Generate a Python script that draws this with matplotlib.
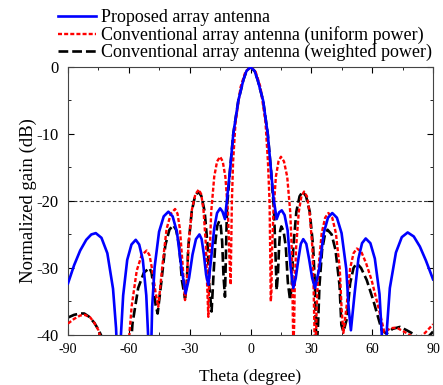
import matplotlib
matplotlib.use("Agg")
import matplotlib.pyplot as plt
from matplotlib.ticker import MultipleLocator

plt.rcParams["font.family"] = ["Liberation Serif", "DejaVu Serif"]
plt.rcParams["axes.unicode_minus"] = False

# Proposed array antenna
blue_theta = [-90, -87, -84, -81, -78.5, -76.3, -73.5, -70.6, -67.8, -66.3, -64.9, -63.9, -62.8,
              -60.8, -58.7, -56.6, -54.9, -53.1, -51.4, -50.5, -49.6, -48.5, -47.3, -45.1, -42.8,
              -40.5, -38.4, -36.3, -34.1, -32.0, -30.3, -28.6, -26.9, -25.2, -24.1, -23.0, -21.9,
              -20.8, -19.4, -17.9, -16.5, -15.0, -13.8, -12.6, -11.5, -10.1, -8.5, -6.0, -3.5,
              -2.0, 0, 2.0, 3.5, 6.2, 8.5, 10.1, 11.3, 12.9, 14.1, 15.4, 16.8, 18.3, 19.7, 21.1,
              22.3, 23.6, 24.8, 26.0, 27.5, 28.9, 30.4, 31.8, 33.9, 36.1, 38.2, 40.3, 42.6, 44.9,
              47.2, 48.4, 49.5, 51.3, 53.2, 55.0, 56.8, 59.1, 61.3, 63.6, 64.7, 65.8, 67.3, 68.7,
              71.7, 74.6, 77.5, 80.5, 83.5, 86.5, 90]
blue_gain = [-32.3, -29.6, -27.4, -25.8, -25.0, -24.8, -25.5, -27.8, -33.1, -39.0, -50, -40.0, -34.1,
             -28.8, -26.5, -25.8, -26.5, -28.8, -34.1, -40.0, -50, -35.8, -29.9, -24.6, -22.3,
             -21.6, -22.3, -24.6, -29.9, -33.8, -31.5, -28.0, -25.7, -25.0, -25.7, -28.0, -31.0,
             -32.5, -28.5, -24.1, -21.8, -21.1, -21.6, -22.7, -19.5, -15.4, -10.0, -5.0, -1.9,
             -0.6, 0, -0.6, -1.9, -5.0, -10.0, -15.4, -19.5, -22.7, -21.7, -21.4, -22.1, -24.4,
             -29.7, -33.0, -31.5, -28.7, -26.4, -25.7, -26.4, -28.7, -31.5, -33.0, -30.1, -24.8,
             -22.5, -21.8, -22.5, -24.8, -30.1, -36.0, -39.3, -33.9, -28.6, -26.3, -25.6, -26.3,
             -28.6, -33.9, -39.8, -50, -38.9, -33.0, -27.7, -25.4, -24.7, -25.3, -26.8, -28.9, -31.7]

# Conventional array antenna, uniform power
red_theta = [-90, -87, -84, -81.6, -79, -77, -75, -73, -71, -66, -61.5, -60.2, -58.6, -56.1, -53.7,
             -51.2, -49.8, -48.4, -46.9, -45.5, -43.4, -41.4, -39.3, -37.2, -36.0, -34.8, -33.5,
             -32.3, -31.5, -30.6, -28.9, -27.2, -25.5, -24.3, -23.2, -22.0, -21.4, -20.8, -20.1,
             -19.4, -17.9, -16.5, -15.0, -13.7, -12.4, -11.1, -10.5, -9.8, -9.2, -8.6, -7.4, -4.9,
             -2.5, 0, 2.5, 4.9, 7.4, 8.6, 9.4, 10.0, 10.3, 10.6, 11.3, 12.5, 13.8, 15.0, 16.5, 18.1,
             19.6, 20.4, 20.7, 21.1, 21.5, 21.8, 22.5, 23.8, 25.1, 26.4, 27.8, 29.1, 30.5, 31.1,
             31.5, 31.8, 32.2, 32.6, 33.5, 35.1, 36.8, 38.4, 40.3, 42.1, 44.0, 44.9, 45.8, 47.5,
             49.1, 50.8, 52.4, 54.5, 57.0, 59.7, 63.0, 66.0, 69, 72, 75, 78, 81, 84, 87, 90]
red_gain = [-38.3, -37.6, -37.1, -37.0, -37.4, -38.2, -39.3, -41.5, -48, -43, -50, -41.6, -35.7, -30.4,
            -28.1, -27.4, -28.1, -30.4, -33.5, -35.8, -29.5, -24.2, -21.9, -21.2, -21.9, -24.2,
            -29.5, -34.8, -32.5, -26.6, -21.3, -19.0, -18.3, -19.0, -21.3, -26.6, -32.5, -37.3,
            -27.6, -21.7, -16.4, -14.1, -13.4, -14.1, -16.4, -21.7, -27.6, -32.5, -20.2, -14.2,
            -8.3, -3.0, -0.7, 0, -0.7, -3.0, -8.3, -14.2, -20.2, -35.0, -33.6, -27.6, -21.7, -16.4,
            -14.1, -13.4, -14.1, -16.4, -21.7, -27.6, -33.6, -42, -38.8, -32.8, -26.9, -21.6,
            -19.3, -18.6, -19.3, -21.6, -26.9, -32.8, -38.8, -45, -42.0, -36.0, -30.1, -24.8,
            -22.5, -21.8, -22.5, -24.8, -30.1, -36.0, -39.7, -35.4, -30.1, -27.8, -27.1, -27.5,
            -29.3, -31.8, -35.8, -39.6, -39.0, -38.9, -39.4, -39.9, -40.5, -40.3, -39.4, -38.4]

# Conventional array antenna, weighted power
black_theta = [-90, -87, -84, -82, -79.5, -77, -75, -73, -71, -66, -61, -59.6, -58.2, -55.4, -52.6,
               -49.8, -48.8, -47.8, -46.8, -45.8, -43.9, -42.0, -40.0, -38.1, -36.7, -35.2, -33.8,
               -32.3, -31.5, -30.7, -29.0, -27.4, -25.7, -24.2, -22.6, -21.1, -20.3, -19.2, -18.3,
               -17.3, -16.4, -15.4, -14.7, -14.0, -13.3, -12.6, -11.6, -10.1, -8.5, -6.0, -3.5,
               -2.0, 0, 2.0, 3.5, 6.2, 8.5, 10.1, 11.6, 12.9, 13.5, 14.1, 14.6, 15.2, 16.3, 17.4,
               18.4, 19.5, 20.3, 21.1, 22.6, 24.2, 25.7, 27.4, 29.2, 30.9, 31.8, 32.2, 32.6, 33.3,
               34.0, 35.3, 36.7, 38.0, 40.0, 41.9, 43.9, 44.8, 45.8, 47.5, 49.1, 50.8, 52.4, 54.5,
               57.3, 60.5, 63.8, 64.7, 67, 70, 73.7, 77, 80, 83.5, 87, 90]
black_gain = [-37.4, -37.0, -36.8, -36.8, -37.3, -38.2, -39.2, -40.5, -46, -43, -50, -44.2, -38.3,
              -33.0, -30.7, -30.0, -30.7, -33.0, -35.5, -36.8, -31.9, -26.6, -24.3, -23.6, -24.3,
              -26.6, -31.9, -34.5, -32.8, -26.9, -21.6, -19.3, -18.6, -19.3, -21.6, -26.9, -32.8,
              -36.5, -31.3, -26.0, -23.7, -23.0, -23.7, -26.0, -31.3, -34.3, -21.0, -15.4, -10.0,
              -5.0, -1.9, -0.6, 0, -0.6, -1.9, -5.0, -10.0, -15.4, -21.5, -33.3, -31.0, -26.8,
              -24.5, -23.8, -24.5, -26.8, -32.1, -34.8, -32.8, -26.9, -21.6, -19.3, -18.6, -19.3,
              -21.6, -26.9, -32.8, -38.8, -42, -38.5, -32.6, -27.3, -25.0, -24.3, -25.0, -27.3,
              -32.6, -38.5, -39.5, -37.6, -32.3, -30.0, -29.3, -30.0, -31.8, -34.8, -38.3, -39.3,
              -39.8, -39.1, -38.8, -39.3, -39.8, -40.5, -40.5, -39.5]

labels = ["Proposed array antenna",
          "Conventional array antenna (uniform power)",
          "Conventional array antenna (weighted power)"]

fig = plt.figure(figsize=(4.43, 3.85), dpi=100)
ax = fig.add_axes([0.1535, 0.13, 0.824, 0.696])

ax.axhline(-20, color="#333333", lw=0.8, ls=(0, (3, 2)), zorder=1)
ax.plot(black_theta, black_gain, color="black", lw=1.9, ls=(0, (3.7, 1.5)), label=labels[2], zorder=2)
ax.plot(red_theta, red_gain, color="red", lw=1.7, ls=(0, (1.7, 0.9)), label=labels[1], zorder=3)
ax.plot(blue_theta, blue_gain, color="blue", lw=1.9, label=labels[0], zorder=4)

ax.set_xlim(-90, 90)
ax.set_ylim(-40, 0)
ax.xaxis.set_major_locator(MultipleLocator(30))
ax.xaxis.set_minor_locator(MultipleLocator(15))
ax.yaxis.set_major_locator(MultipleLocator(10))
ax.yaxis.set_minor_locator(MultipleLocator(5))
ax.tick_params(which="both", direction="in", top=True, right=True)
ax.tick_params(which="major", length=4)
ax.tick_params(which="minor", length=2)
ax.tick_params(axis="x", labelsize=10, pad=6)
ax.tick_params(axis="y", labelsize=12, pad=7)
for sp in ax.spines.values():
    sp.set_color("#444444")
ax.set_xlabel("Theta (degree)", fontsize=12.5, labelpad=9)
ax.set_ylabel("Normalized gain (dB)", fontsize=13.5, labelpad=-1)

handles, labs = ax.get_legend_handles_labels()
order = [2, 1, 0]
fig.legend([handles[i] for i in order], [labs[i] for i in order], loc="upper left",
           bbox_to_anchor=(58 / 443, 1 - 9 / 385), frameon=False, fontsize=13.0,
           borderpad=0, borderaxespad=0, labelspacing=0, handlelength=2.1, handletextpad=0.3)

fig.savefig("out.png", dpi=100)
